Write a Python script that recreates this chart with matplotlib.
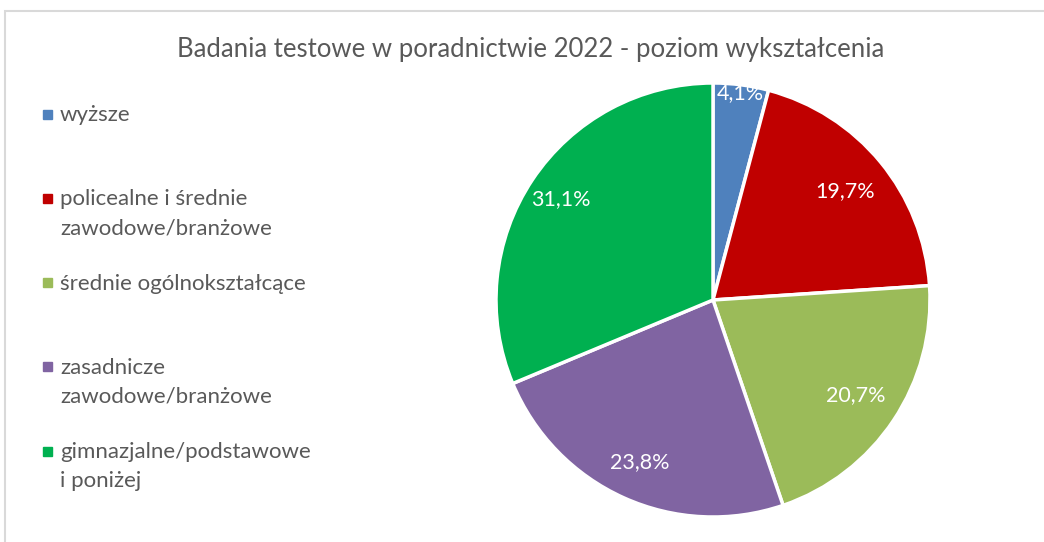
import numpy as np
import matplotlib.pyplot as plt
from matplotlib.patches import Rectangle

plt.rcParams['font.family'] = ['Lato', 'DejaVu Sans']

title = "Badania testowe w poradnictwie 2022 - poziom wykształcenia"
categories = ["wyższe",
              "policealne i średnie\nzawodowe/branżowe",
              "średnie ogólnokształcące",
              "zasadnicze\nzawodowe/branżowe",
              "gimnazjalne/podstawowe\ni poniżej"]
shares = [4.1, 19.7, 20.7, 23.8, 31.1]
colors = ["#4F81BD", "#C00000", "#9BBB59", "#8064A2", "#00B050"]
label_radius = [0.96, 0.79, 0.79, 0.82, 0.84]

W, H = 1044, 542
fig = plt.figure(figsize=(W / 100, H / 100), dpi=100)

# light grey frame around the chart area
fig.add_artist(Rectangle((5 / W, -0.1), 1.2, (H - 11) / H + 0.1, transform=fig.transFigure,
                         fill=False, edgecolor="#D9D9D9", linewidth=1.5))

cx, cy, r = 713, 300, 217
ax = fig.add_axes([(cx - r) / W, (H - cy - r) / H, 2 * r / W, 2 * r / H])
wedges, _ = ax.pie(shares, colors=colors, startangle=90, counterclock=False,
                   wedgeprops=dict(edgecolor="white", linewidth=2.5))
ax.set_xlim(-1, 1)
ax.set_ylim(-1, 1)
ax.set_aspect("equal")

for w, val, rad in zip(wedges, shares, label_radius):
    ang = np.deg2rad((w.theta1 + w.theta2) / 2)
    ax.text(rad * np.cos(ang), rad * np.sin(ang), f"{val:.1f}%".replace(".", ","),
            ha="center", va="center", color="white", fontsize=15.5)

fig.text(531 / W, 1 - 50 / H, title, ha="center", va="center", fontsize=18.5, color="#595959")

# legend drawn as squares plus labels, evenly spaced slots
for i, (lab, col) in enumerate(zip(categories, colors)):
    y = 114 + 84.3 * i
    fig.add_artist(Rectangle((43 / W, 1 - (y + 4.5) / H), 9 / W, 9 / H,
                             transform=fig.transFigure, color=col))
    fig.text(60 / W, 1 - (y - 9) / H, lab, ha="left", va="top", fontsize=16,
             color="#595959", linespacing=1.55)

fig.savefig("out.png", dpi=100)
